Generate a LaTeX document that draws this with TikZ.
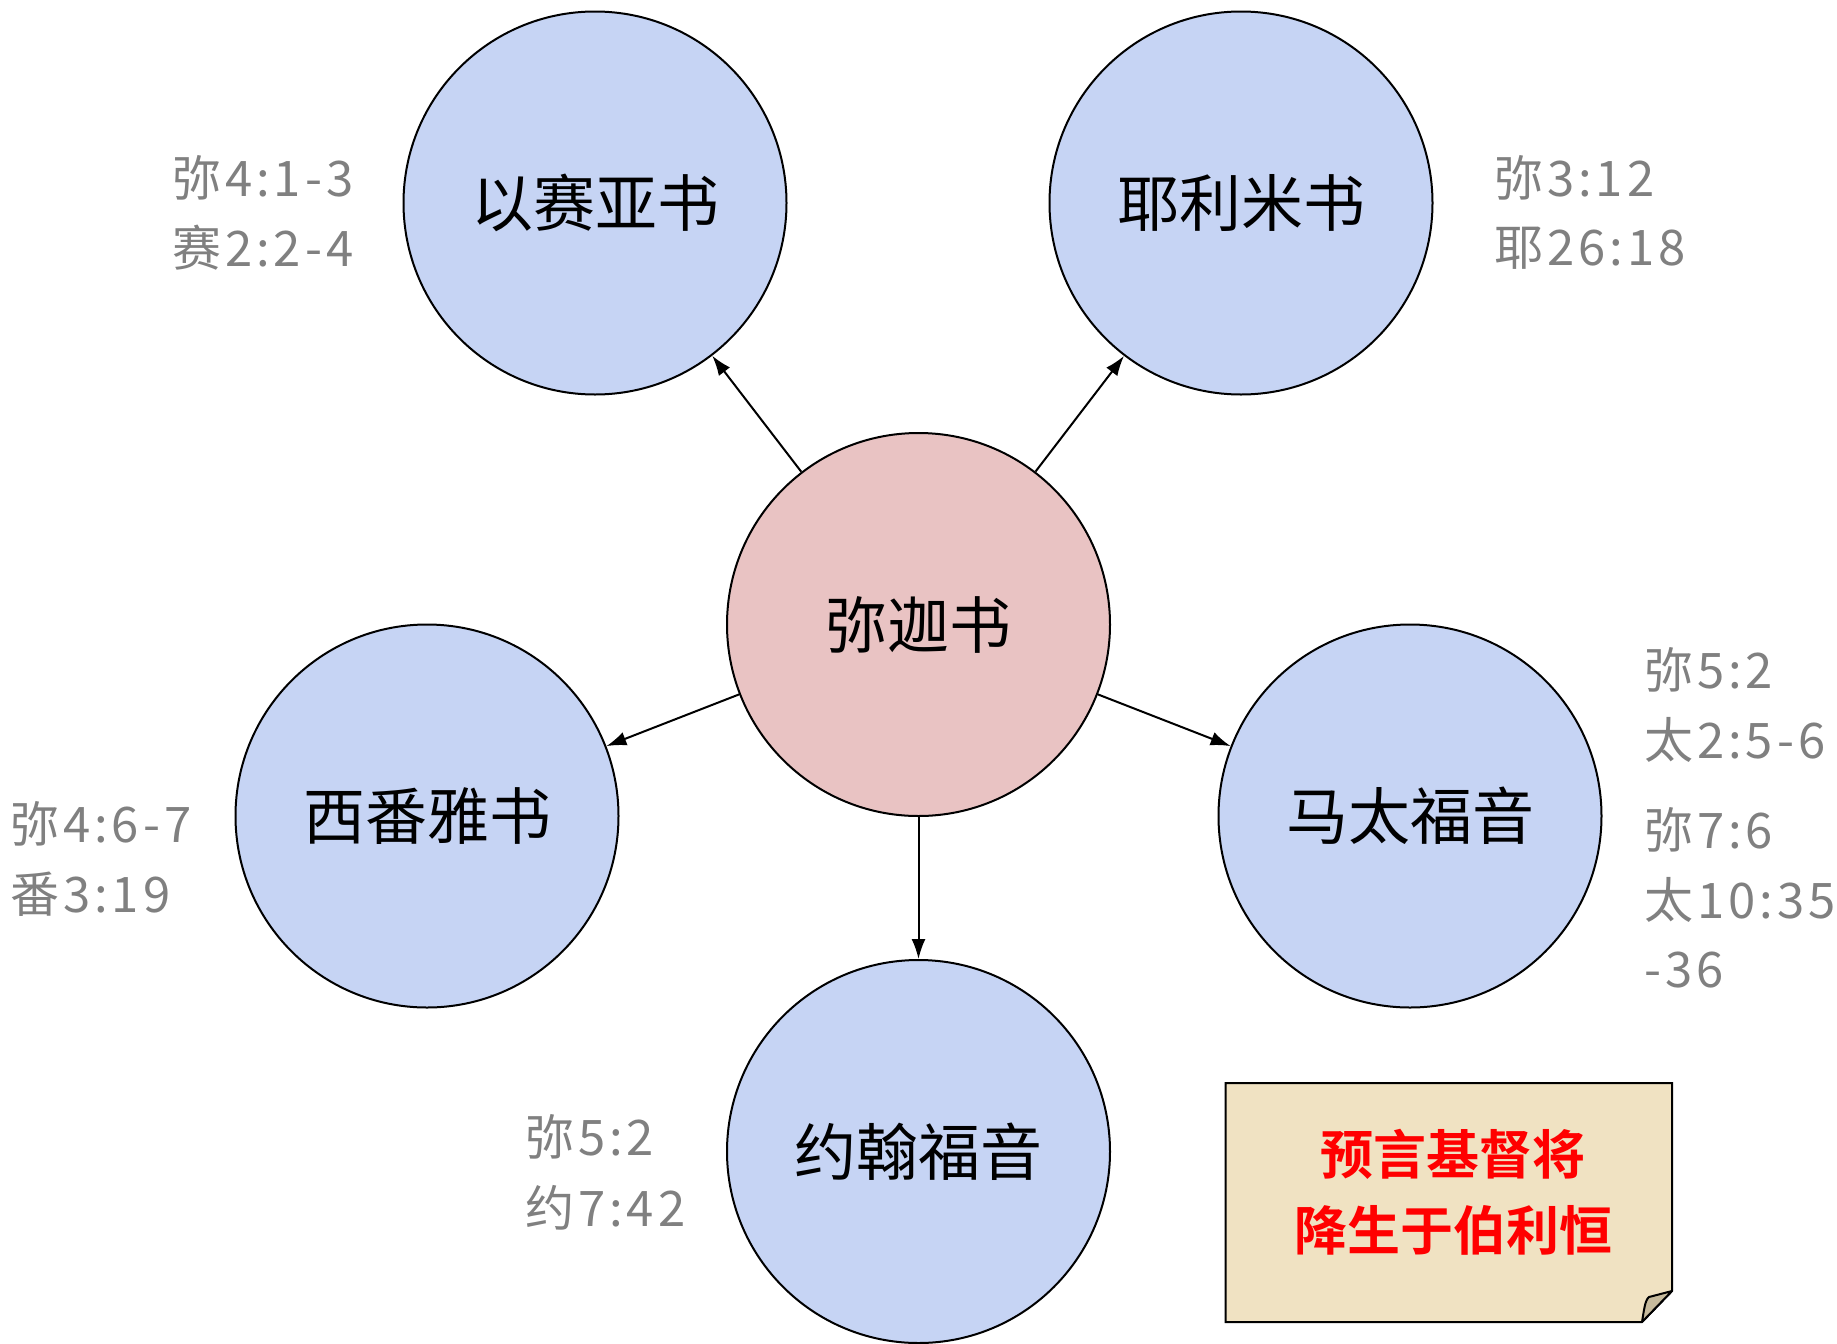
\documentclass[tikz,border=0pt]{standalone}
\usepackage{fontspec}
\setmainfont{Noto Sans CJK SC}[BoldFont={Noto Sans CJK SC Bold}]
\usetikzlibrary{arrows.meta}
\definecolor{bluefill}{RGB}{198,212,244}
\definecolor{pinkfill}{RGB}{233,195,195}
\definecolor{paper}{RGB}{240,226,194}
\definecolor{foldc}{RGB}{198,186,156}
\definecolor{reftext}{RGB}{128,128,128}
\definecolor{notered}{RGB}{255,0,0}
\newcommand{\booktxt}[1]{\raisebox{-2.5pt}{#1}}
\begin{document}
\begin{tikzpicture}[x=0.5pt,y=-0.5pt,
  book/.style={circle,draw=black,line width=1pt,fill=bluefill,minimum size=191.5pt,inner sep=0pt,font=\fontsize{31}{36}\selectfont},
  centerbook/.style={book,fill=pinkfill},
  reflabel/.style={anchor=west,inner sep=0pt,text=reftext,font=\fontsize{24.5}{30}\selectfont\addfontfeature{LetterSpace=8}},
  notetext/.style={inner sep=0pt,text=notered,font=\bfseries\fontsize{26.5}{32}\selectfont},
  link/.style={-{Latex[length=10pt,width=7pt]},line width=1pt}
]
\useasboundingbox (0,0) rectangle (1837,1344);

% circles
\node[centerbook] (mic) at (918.5,624.5) {\booktxt{弥迦书}};
\node[book] (isa) at (595,203) {\booktxt{以赛亚书}};
\node[book] (jer) at (1241,203) {\booktxt{耶利米书}};
\node[book] (zep) at (427,816) {\booktxt{西番雅书}};
\node[book] (mat) at (1410,816) {\booktxt{马太福音}};
\node[book] (joh) at (918.5,1151.5) {\booktxt{约翰福音}};

% connectors
\draw[link] (mic) -- (isa);
\draw[link] (mic) -- (jer);
\draw[link] (mic) -- (zep);
\draw[link] (mic) -- (mat);
\draw[link] (mic) -- (joh);

% reference labels
\node[reflabel] (r1a) at (172,178) {弥4:1-3};
\node[reflabel] (r1b) at (172,248) {赛2:2-4};
\node[reflabel] (r2a) at (1494,178) {弥3:12};
\node[reflabel] (r2b) at (1494,248) {耶26:18};
\node[reflabel] (r3a) at (10,824) {弥4:6-7};
\node[reflabel] (r3b) at (10,894) {番3:19};
\node[reflabel] (r4a) at (1644,670) {弥5:2};
\node[reflabel] (r4b) at (1644,740) {太2:5-6};
\node[reflabel] (r4c) at (1644,830) {弥7:6};
\node[reflabel] (r4d) at (1644,900) {太10:35};
\node[reflabel] (r4e) at (1644,970) {-36};
\node[reflabel] (r5a) at (525,1137) {弥5:2};
\node[reflabel] (r5b) at (525,1208) {约7:42};

% note paper
\draw[line width=1pt,fill=paper] (1225.5,1083) -- (1672,1083) -- (1672,1291) -- (1642,1322) -- (1225.5,1322) -- cycle;
\draw[line width=1pt,fill=foldc,line join=round] (1642,1322) .. controls (1644,1310) and (1645,1300) .. (1649,1297) -- (1672,1291) -- cycle;
\node[notetext] (n1) at (1453,1154) {预言基督将};
\node[notetext] (n2) at (1453,1230) {降生于伯利恒};
\end{tikzpicture}
\end{document}
